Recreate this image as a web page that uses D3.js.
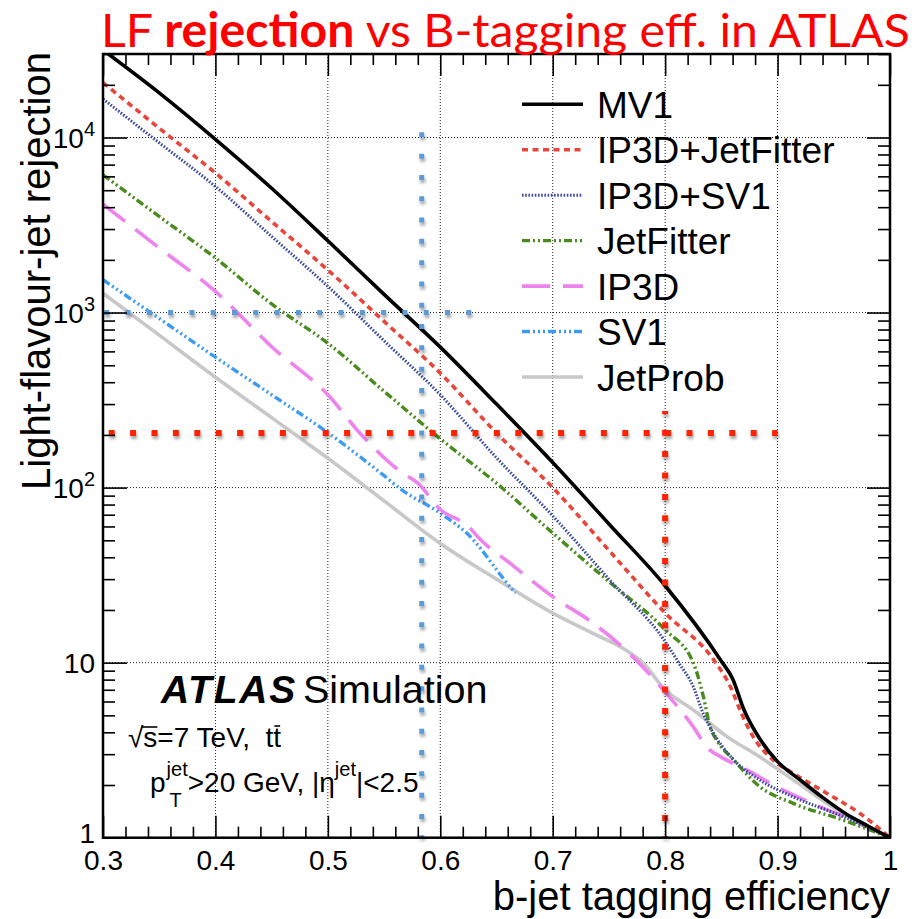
<!DOCTYPE html>
<html><head><meta charset="utf-8">
<script src="https://cdn.jsdelivr.net/npm/d3@7"></script>
<style>body{margin:0;background:#fff} svg{display:block}</style>
</head><body>
<script>
// ---------- data: [b-jet efficiency, light-jet rejection] ----------
const mv1 = [[0.30,31600],[0.35,18000],[0.40,9770],[0.45,5130],[0.50,2570],[0.55,1270],[0.60,635],[0.65,300],[0.70,139],[0.75,62],[0.80,27.5],[0.85,10.2],[0.86,8.1],[0.87,5.4],[0.885,3.6],[0.90,2.72],[0.92,2.14],[0.94,1.7],[0.96,1.38],[0.98,1.17],[1.0,1.0]];
const ip3dJetFitter = [[0.30,20600],[0.35,11300],[0.40,6270],[0.45,3310],[0.50,1750],[0.55,890],[0.60,451],[0.65,205],[0.70,100],[0.75,43.8],[0.80,19.2],[0.845,10],[0.858,7.3],[0.868,5.1],[0.878,3.8],[0.896,2.78],[0.914,2.33],[0.944,1.79],[0.973,1.38],[1.0,1.0]];
const ip3dSv1 = [[0.30,16600],[0.35,9330],[0.40,5250],[0.45,2720],[0.50,1410],[0.55,690],[0.60,339],[0.65,148],[0.70,69],[0.75,30],[0.80,13.2],[0.812,10],[0.825,7.3],[0.834,5.1],[0.843,3.95],[0.861,2.78],[0.884,2.14],[0.914,1.71],[0.9585,1.32],[1.0,1.0]];
const jetFitter = [[0.30,6120],[0.35,3540],[0.40,2050],[0.45,1120],[0.50,668],[0.55,355],[0.60,190],[0.65,106],[0.70,55],[0.75,29],[0.80,15.4],[0.825,10],[0.834,6.4],[0.84,4.3],[0.846,3.6],[0.861,2.78],[0.884,1.96],[0.914,1.57],[0.9585,1.26],[1.0,1.0]];
const ip3d = [[0.30,4160],[0.35,2340],[0.40,1320],[0.45,638],[0.50,339],[0.53,200],[0.565,123],[0.58,106],[0.60,75],[0.625,60],[0.635,51],[0.662,37],[0.70,23.8],[0.735,17],[0.77,11],[0.80,6.8],[0.825,4.3],[0.837,3.3],[0.852,2.84],[0.8725,2.44],[0.899,1.96],[0.938,1.5],[0.973,1.21],[1.0,1.0]];
const sv1 = [[0.30,1540],[0.35,925],[0.40,556],[0.45,339],[0.50,206],[0.55,117],[0.564,99],[0.60,71.4],[0.6235,55],[0.662,27.2],[0.667,25]];
const jetProb = [[0.30,1290],[0.35,743],[0.40,427],[0.45,251],[0.50,147],[0.55,84],[0.60,48],[0.65,30],[0.70,19.2],[0.735,14.8],[0.765,11.8],[0.78,10],[0.80,7.0],[0.825,5.37],[0.855,3.78],[0.884,2.9],[0.914,2.14],[0.944,1.57],[0.973,1.21],[1.0,1.0]];

const seriesNames = ["MV1","IP3D+JetFitter","IP3D+SV1","JetFitter","IP3D","SV1","JetProb"];
const seriesData = [mv1, ip3dJetFitter, ip3dSv1, jetFitter, ip3d, sv1, jetProb];

const xTickLabels = [0.3,0.4,0.5,0.6,0.7,0.8,0.9,1];
const yTickLabels = [1,10,100,1000,10000];

// working-point guide lines: [eff, rejection] endpoints
const blueGuideV = [[0.5835,10700],[0.5835,1]];
const blueGuideH = [[0.3,1000],[0.628,1000]];
const redGuideH = [[0.3,205],[0.9,205]];
const redGuideV = [[0.8,274],[0.8,1]];

// ---------- styling ----------
const colors = ["#000000","#e8463b","#3b4a9e","#4a8b1e","#ee82ee","#3d9bf2","#c8c8c8"];
const dashes = [null,"6,4.5","1.6,1.6","8,3,2,3,2,3","28,13","8,3,2,3,2,3,2,3",null];
const widths = [3.6,3.6,3,3.4,3.6,3.4,3.6];

const W=919,H=919, L=103, R=890, T=54, B=837.7;
const x = d3.scaleLinear().domain([0.3,1]).range([L,R]);
const y = d3.scaleLog().domain([1,3e4]).range([B,T]);
const AX = '"Liberation Sans", Arial, Helvetica, sans-serif';

const svg = d3.select('body').append('svg').attr('width',W).attr('height',H);
const defs = svg.append('defs');
defs.append('clipPath').attr('id','clip').append('rect')
  .attr('x',L).attr('y',T).attr('width',R-L).attr('height',B-T);
const flt = defs.append('filter').attr('id','sh').attr('x','-20%').attr('y','-20%').attr('width','140%').attr('height','140%');
flt.append('feDropShadow').attr('dx',1).attr('dy',3).attr('stdDeviation',1.6)
  .attr('flood-color','#000').attr('flood-opacity',0.35);

// ---------- grid ----------
const grid = svg.append('g').attr('stroke','#222').attr('stroke-width',1).attr('stroke-dasharray','1,2');
grid.selectAll('.gx').data([0.4,0.5,0.6,0.7,0.8,0.9]).enter().append('line')
  .attr('x1',d=>x(d)).attr('x2',d=>x(d)).attr('y1',T).attr('y2',B);
grid.selectAll('.gy').data([10,100,1000,10000]).enter().append('line')
  .attr('y1',d=>y(d)).attr('y2',d=>y(d)).attr('x1',L).attr('x2',R);

// ---------- curves ----------
const line = d3.line().x(d=>x(d[0])).y(d=>y(d[1])).curve(d3.curveMonotoneX);
const curves = svg.append('g').attr('clip-path','url(#clip)');
for (let i = seriesData.length-1; i>=0; i--) {
  curves.append('path').datum(seriesData[i]).attr('d',line)
    .attr('fill','none').attr('stroke',colors[i]).attr('stroke-width',widths[i])
    .attr('stroke-dasharray',dashes[i]);
}

// ---------- guide lines (square-dotted with shadow) ----------
const guideLine = d3.line().x(d=>x(d[0])).y(d=>y(d[1]));
const guides = svg.append('g').attr('filter','url(#sh)').attr('fill','none');
guides.append('path').datum(blueGuideV).attr('d',guideLine).attr('stroke','#5b9bd5')
  .attr('stroke-width',5).attr('stroke-dasharray','5,16.3');
guides.append('path').datum(blueGuideH).attr('d',guideLine).attr('stroke','#5b9bd5')
  .attr('stroke-width',5).attr('stroke-dasharray','5,16.3').attr('stroke-dashoffset',20.1);
guides.append('path').datum(redGuideH).attr('d',guideLine).attr('stroke','#ff2200')
  .attr('stroke-width',6).attr('stroke-dasharray','6,15.4').attr('stroke-dashoffset',15.7);
guides.append('path').datum(redGuideV).attr('d',guideLine).attr('stroke','#ff2200')
  .attr('stroke-width',6).attr('stroke-dasharray','6,15.4').attr('stroke-dashoffset',2.7);

// ---------- axes ----------
const xMinor = d3.range(0.32,1.0,0.02).filter(v=>Math.abs(v*10-Math.round(v*10))>1e-6);
const yMinor = [];
[1,10,100,1000,10000].forEach(p=>{for(let k=2;k<=9;k++){ if(p*k<=3e4) yMinor.push(p*k);} });

function styleAxis(g){ g.select('.domain').remove(); g.selectAll('.tick line').attr('stroke','#000').attr('stroke-width',1.6); }

svg.append('g').attr('transform',`translate(0,${B})`)
  .call(d3.axisBottom(x).tickValues(xTickLabels).tickSize(-22).tickPadding(12)
    .tickFormat(d=> d===1 ? "1" : d3.format(".1f")(d)))
  .call(styleAxis)
  .call(g=>g.selectAll('text').attr('font-family',AX).attr('font-size',28).attr('fill','#000'));
svg.append('g').attr('transform',`translate(0,${B})`)
  .call(d3.axisBottom(x).tickValues(xMinor).tickSize(-11).tickFormat('')).call(styleAxis);
svg.append('g').attr('transform',`translate(0,${T})`)
  .call(d3.axisTop(x).tickValues(xTickLabels).tickSize(-22).tickFormat('')).call(styleAxis);
svg.append('g').attr('transform',`translate(0,${T})`)
  .call(d3.axisTop(x).tickValues(xMinor).tickSize(-11).tickFormat('')).call(styleAxis);

const yl = svg.append('g').attr('transform',`translate(${L},0)`)
  .call(d3.axisLeft(y).tickValues(yTickLabels).tickSize(-24).tickPadding(8).tickFormat(''))
  .call(styleAxis);
yl.selectAll('.tick').each(function(d){
  const e = Math.round(Math.log10(d));
  const t = d3.select(this).append('text').attr('x',-8).attr('dy', e===0 ? '0.18em' : '0.36em')
    .attr('text-anchor','end').attr('font-family',AX).attr('font-size',28).attr('fill','#000');
  if (e===0) t.text('1');
  else if (e===1) t.text('10');
  else { t.append('tspan').text('10'); t.append('tspan').attr('dy',-12).attr('font-size',20).text(String(e)); }
});
svg.append('g').attr('transform',`translate(${L},0)`)
  .call(d3.axisLeft(y).tickValues(yMinor).tickSize(-12).tickFormat('')).call(styleAxis);
svg.append('g').attr('transform',`translate(${R},0)`)
  .call(d3.axisRight(y).tickValues(yTickLabels).tickSize(-23).tickFormat('')).call(styleAxis);
svg.append('g').attr('transform',`translate(${R},0)`)
  .call(d3.axisRight(y).tickValues(yMinor).tickSize(-12).tickFormat('')).call(styleAxis);

// frame
svg.append('rect').attr('x',L).attr('y',T).attr('width',R-L).attr('height',B-T)
  .attr('fill','none').attr('stroke','#000').attr('stroke-width',2.5);

// ---------- axis titles ----------
svg.append('text').attr('x',R).attr('y',910).attr('text-anchor','end')
  .attr('font-family',AX).attr('font-size',40).attr('fill','#000').text('b-jet tagging efficiency');
svg.append('text').attr('transform','translate(50,52) rotate(-90)').attr('text-anchor','end')
  .attr('font-family',AX).attr('font-size',40).attr('fill','#000').text('Light-flavour-jet rejection');

// ---------- legend ----------
const lg = svg.append('g');
seriesNames.forEach((n,i)=>{
  const cy = 104.3 + i*45.45;
  lg.append('line').attr('x1',522).attr('x2',583).attr('y1',cy).attr('y2',cy)
    .attr('stroke',colors[i]).attr('stroke-width',widths[i]).attr('stroke-dasharray',dashes[i]);
  lg.append('text').attr('x',597).attr('y',cy+13.5).attr('font-family',AX).attr('font-size',37)
    .attr('fill','#000').text(n);
});

// ---------- ATLAS label ----------
svg.append('text').attr('x',161).attr('y',703).attr('font-family',AX).attr('font-size',39)
  .attr('font-weight','bold').attr('font-style','italic').attr('letter-spacing',1.8).text('ATLAS');
svg.append('text').attr('x',303).attr('y',703).attr('font-family',AX).attr('font-size',39.5).text('Simulation');

// sqrt(s) line
const l2 = svg.append('text').attr('x',128).attr('y',747).attr('font-family',AX).attr('font-size',28)
  .style('white-space','pre').text('\u221As=7 TeV,  tt');
{
  const n = l2.node();
  const rs = n.getExtentOfChar(0), s = n.getExtentOfChar(1), tt = n.getExtentOfChar(12);
  svg.append('line').attr('x1',rs.x+rs.width-2).attr('x2',s.x+s.width).attr('y1',s.y+5).attr('y2',s.y+5)
    .attr('stroke','#000').attr('stroke-width',1.6);
  svg.append('line').attr('x1',tt.x+1).attr('x2',tt.x+tt.width-1).attr('y1',tt.y+4).attr('y2',tt.y+4)
    .attr('stroke','#000').attr('stroke-width',1.6);
}

// pT line
const base3 = 791.5;
const pT = svg.append('text').attr('x',150).attr('y',base3).attr('font-family',AX).attr('font-size',28).text('p');
let cx = 150 + pT.node().getComputedTextLength() + 1;
const sup1 = svg.append('text').attr('x',cx).attr('y',base3-16).attr('font-family',AX).attr('font-size',20).text('jet');
svg.append('text').attr('x',cx+3).attr('y',base3+15).attr('font-family',AX).attr('font-size',20).text('T');
cx += sup1.node().getComputedTextLength();
const mid = svg.append('text').attr('x',cx).attr('y',base3).attr('font-family',AX).attr('font-size',28)
  .style('white-space','pre').text('>20 GeV, |\u03B7');
cx += mid.node().getComputedTextLength();
const sup2 = svg.append('text').attr('x',cx).attr('y',base3-16).attr('font-family',AX).attr('font-size',20).text('jet');
cx += sup2.node().getComputedTextLength();
svg.append('text').attr('x',cx).attr('y',base3).attr('font-family',AX).attr('font-size',28).text('|<2.5');

// ---------- slide title ----------
const title = svg.append('text').attr('x',0).attr('y',47).attr('font-family','Lato, "Open Sans", sans-serif')
  .attr('font-size',47).attr('fill','#ff0000').style('white-space','pre');
title.append('tspan').text('LF ');
title.append('tspan').attr('font-weight','bold').text('rejection');
title.append('tspan').text(' vs B-tagging eff. in ATLAS');
const tw = title.node().getComputedTextLength();
title.attr('transform',`translate(101,0) scale(${809/tw},1)`);
</script>
</body></html>
